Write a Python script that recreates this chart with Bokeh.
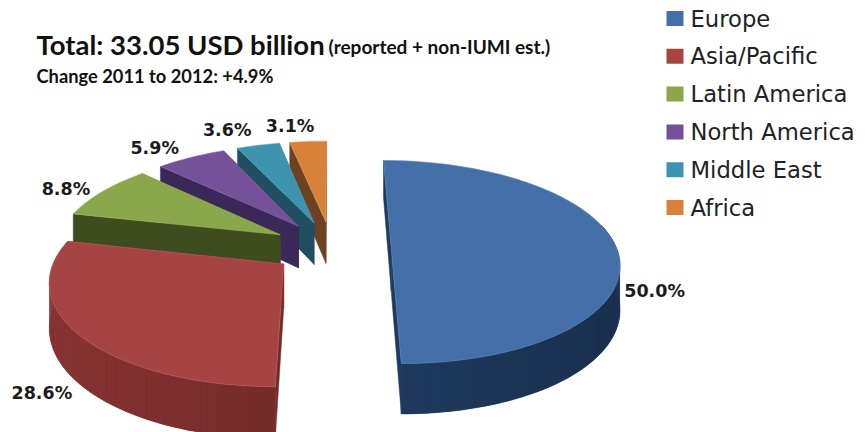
import numpy as np
from bokeh.core.properties import value
from bokeh.embed import file_html
from bokeh.models import Range1d
from bokeh.plotting import figure
from bokeh.resources import INLINE

# Global insurance premium shares by region
regions = ["Europe", "Asia/Pacific", "Latin America", "North America", "Middle East", "Africa"]
shares = [50.0, 28.6, 8.8, 5.9, 3.6, 3.1]
title_main = "Total: 33.05 USD billion"
title_note = "(reported + non-IUMI est.)"
subtitle = "Change 2011 to 2012:  +4.9%"

top_colors = ["#446fa8", "#a54443", "#8aa74b", "#745198", "#3e94af", "#d8813a"]
wall_colors = ["#1f3a5e", "#742c2b", "#3f4c20", "#3a2858", "#1f4f60", "#6e4120"]
rim_colors = ["#5c86ba", "#c06260", "#9db85f", "#8a68ac", "#58a8c0", "#e89a55"]

# Perspective camera: ground-plane points converge on a vanishing point above the page
VX, VY = 331.0, -434.0
SCALE_X, SCALE_Y = 225.0, 680.7
TILT = 0.146
DEPTH = 43.0
EXPLODE = 0.265

# Label placement relative to each slice's rim midpoint, in pixels
label_offsets = [(38.5, 44), (-38, 57), (-36.5, -3), (-36, -10), (-31, -15), (-18, -16)]


def project(u, v):
    d = 1 + TILT * np.asarray(v)
    return VX + SCALE_X * np.asarray(u) / d, VY + SCALE_Y / d, 1 / d


def mix(hex_color, factor):
    rgb = [int(hex_color[i:i + 2], 16) for i in (1, 3, 5)]
    return "#" + "".join(f"{min(255, int(c * factor)):02x}" for c in rgb)


p = figure(width=865, height=432, output_backend="svg", toolbar_location=None,
           x_range=Range1d(0, 865), y_range=Range1d(432, 0), min_border=0,
           background_fill_color="white", border_fill_color="white")
p.axis.visible = False
p.grid.visible = False
p.outline_line_color = None

edges = np.radians(np.concatenate([[0], np.cumsum(shares)]) * 3.6)
rim_points = []
slices = []
for i in range(len(shares)):
    a0, a1 = edges[i], edges[i + 1]
    mid = (a0 + a1) / 2
    cu, cv = EXPLODE * np.sin(mid), EXPLODE * np.cos(mid)
    th = np.linspace(a0, a1, max(6, int((a1 - a0) * 40)))
    rx, ry, rt = project(cu + np.sin(th), cv + np.cos(th))
    ax, ay, at = project(cu, cv)
    mx, my, _ = project(cu + np.sin(mid), cv + np.cos(mid))
    rim_points.append((mx, my))
    slices.append((th, rx, ry, rt, ax, ay, at))

# Paint from the back of the pie to the front
for i in reversed(range(len(shares))):
    th, rx, ry, rt, ax, ay, at = slices[i]
    wall = wall_colors[i]

    # Straight cut faces on either side of the slice
    for j in (0, -1):
        xs = [ax, rx[j], rx[j], ax]
        ys = [ay, ry[j], ry[j] + DEPTH * rt[j], ay + DEPTH * at]
        p.patch(xs, ys, fill_color=wall, line_color=wall, line_width=0.5)

    # Curved outer wall on the camera-facing part of the rim only
    front = np.cos(th) <= 0.23
    if front.sum() > 1:
        fx, fy, ft, fth = rx[front], ry[front], rt[front], th[front]
        p.patch(np.r_[fx, fx[::-1]], np.r_[fy, (fy + DEPTH * ft)[::-1]],
                fill_color=wall, line_color=wall, line_width=0.5)
        # Shading bands, a little lighter toward the left of the page
        qx, qy, qc = [], [], []
        for k in range(len(fth) - 1):
            qx.append([fx[k], fx[k + 1], fx[k + 1], fx[k]])
            qy.append([fy[k], fy[k + 1], fy[k + 1] + DEPTH * ft[k + 1], fy[k] + DEPTH * ft[k]])
            qc.append(mix(wall, 1 - 0.2 * np.sin((fth[k] + fth[k + 1]) / 2)))
        p.patches(qx, qy, fill_color=qc, line_color=None)

    # Top face
    p.patch(np.r_[ax, rx], np.r_[ay, ry], fill_color=top_colors[i],
            line_color=rim_colors[i], line_width=0.6)

# Percentage labels
lx = [rim_points[i][0] + label_offsets[i][0] for i in range(len(shares))]
ly = [rim_points[i][1] + label_offsets[i][1] for i in range(len(shares))]
p.text(lx, ly, text=[f"{s:.1f}%" for s in shares], text_align="center", text_baseline="middle",
       text_font=value("DejaVu Sans"), text_font_style="bold", text_font_size="17.5px", text_color="#1c1c1c")

# Headline block
p.text([36], [44], text=[title_main], text_baseline="middle", text_font=value("Lato"),
       text_font_style="bold", text_font_size="27.5px", text_color="#111111")
p.text([328], [46], text=[title_note], text_baseline="middle", text_font=value("Lato"),
       text_font_style="bold", text_font_size="19px", text_color="#111111")
p.text([36], [75], text=[subtitle], text_baseline="middle", text_font=value("Lato"),
       text_font_style="bold", text_font_size="18.3px", text_color="#111111")

# Legend column
row_y = [18 + 37.8 * i for i in range(len(regions))]
p.rect([674.5] * len(regions), row_y, width=17, height=15, fill_color=top_colors, line_color=None)
p.text([690] * len(regions), row_y, text=regions, text_baseline="middle", text_font=value("DejaVu Sans"),
       text_font_size="22.7px", text_color="#222222")

open("out.html", "w").write(file_html(p, INLINE))
